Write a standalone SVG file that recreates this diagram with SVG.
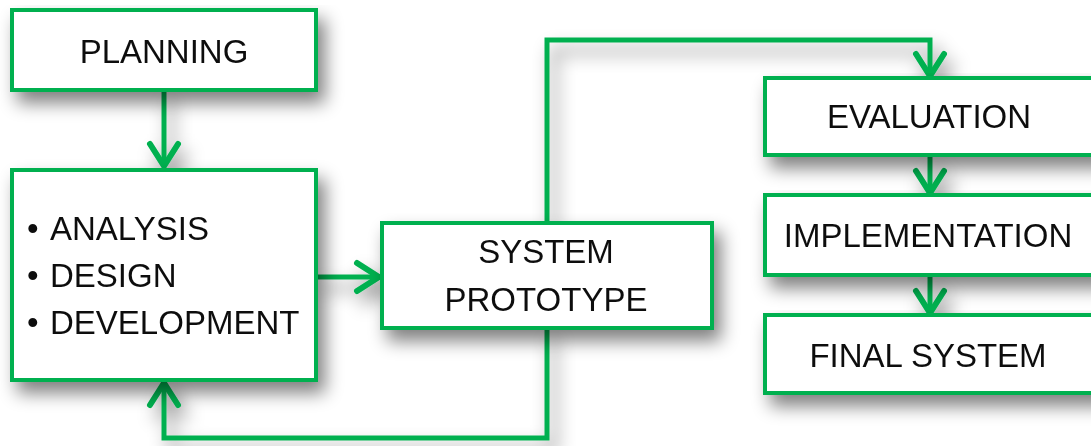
<svg xmlns="http://www.w3.org/2000/svg" width="1091" height="446" viewBox="0 0 1091 446">
  <defs>
    <filter id="shadow" x="-20%" y="-20%" width="150%" height="170%">
      <feGaussianBlur in="SourceAlpha" stdDeviation="9"/>
      <feOffset dx="7" dy="11" result="b"/>
      <feComponentTransfer><feFuncA type="linear" slope="0.5"/></feComponentTransfer>
      <feMerge><feMergeNode/><feMergeNode in="SourceGraphic"/></feMerge>
    </filter>
    <marker id="chev" viewBox="-30 -19 34 38" refX="0" refY="0" markerWidth="34" markerHeight="38" markerUnits="userSpaceOnUse" orient="auto">
      <path d="M-23,-14 L-1,0 L-23,14" fill="none" stroke="#00B050" stroke-width="6" stroke-linejoin="miter" stroke-linecap="round"/>
    </marker>
  </defs>
  <style>
    .box { fill: #ffffff; stroke: #00B050; stroke-width: 4; }
    .lbl { font-family: "Liberation Sans", Arial, sans-serif; font-size: 33px; fill: #111111; }
    .mid { text-anchor: middle; }
    .conn { fill: none; stroke: #00B050; stroke-width: 5; marker-end: url(#chev); }
  </style>
  <rect width="1091" height="446" fill="#ffffff"/>
  <g id="connectors" filter="url(#shadow)">
    <path class="conn" d="M164,90 V167"/>
    <path class="conn" d="M316,277 H380"/>
    <path class="conn" d="M547,223 V40 H930 V77"/>
    <path class="conn" d="M930,155 V194"/>
    <path class="conn" d="M930,275 V314"/>
    <path class="conn" d="M547,328 V438 H164 V382"/>
  </g>
  <g id="planning" filter="url(#shadow)">
    <rect class="box" x="12" y="10" width="304" height="80"/>
    <text class="lbl mid" x="164" y="63">PLANNING</text>
  </g>
  <g id="analysis" filter="url(#shadow)">
    <rect class="box" x="12" y="170" width="304" height="210"/>
    <text class="lbl" x="27" y="240">•</text>
    <text class="lbl" x="50" y="240">ANALYSIS</text>
    <text class="lbl" x="27" y="287">•</text>
    <text class="lbl" x="50" y="287">DESIGN</text>
    <text class="lbl" x="27" y="334">•</text>
    <text class="lbl" x="50" y="334">DEVELOPMENT</text>
  </g>
  <g id="prototype" filter="url(#shadow)">
    <rect class="box" x="382" y="223" width="330" height="105"/>
    <text class="lbl mid" x="546" y="263">SYSTEM</text>
    <text class="lbl mid" x="546" y="311">PROTOTYPE</text>
  </g>
  <g id="evaluation" filter="url(#shadow)">
    <rect class="box" x="765" y="78" width="340" height="77"/>
    <text class="lbl mid" x="929" y="128">EVALUATION</text>
  </g>
  <g id="implementation" filter="url(#shadow)">
    <rect class="box" x="765" y="195" width="340" height="80"/>
    <text class="lbl mid" x="928" y="247">IMPLEMENTATION</text>
  </g>
  <g id="final" filter="url(#shadow)">
    <rect class="box" x="765" y="315" width="340" height="78"/>
    <text class="lbl mid" x="928" y="367">FINAL SYSTEM</text>
  </g>
</svg>
